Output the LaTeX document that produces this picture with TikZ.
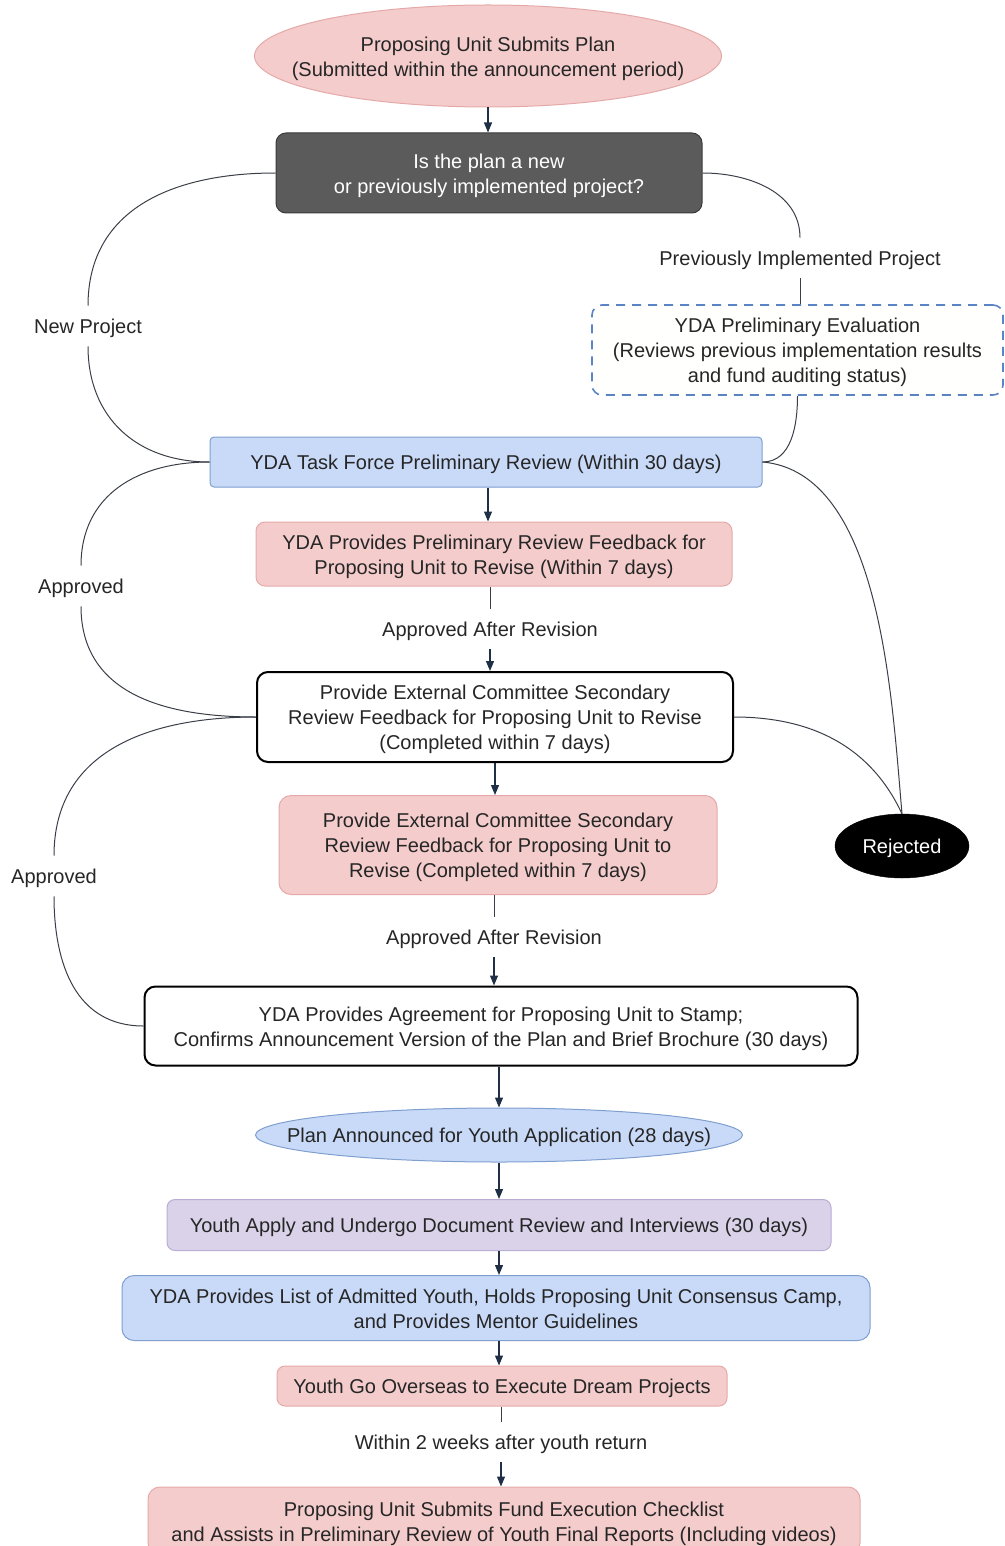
\documentclass[tikz,border=0pt]{standalone}
\usepackage{fontspec}
\setmainfont{Liberation Sans}
\usetikzlibrary{arrows.meta,shapes.geometric}
\definecolor{pinkfill}{HTML}{F4CCCC}
\definecolor{pinkdraw}{HTML}{E6A9A9}
\definecolor{bluefill}{HTML}{C9DAF8}
\definecolor{bluedraw}{HTML}{7F9FCF}
\definecolor{purpfill}{HTML}{D9D2E9}
\definecolor{purpdraw}{HTML}{B9ADD6}
\definecolor{darkfill}{HTML}{5B5B5B}
\definecolor{darkdraw}{HTML}{3A3A3A}
\definecolor{linecol}{HTML}{3A3F47}
\definecolor{arrcol}{HTML}{1F2F45}
\definecolor{txt}{HTML}{262626}
\definecolor{dashblue}{HTML}{5B84C4}
\definecolor{palefill}{HTML}{FFFFFD}
\newcommand{\mystrut}{\rule[-4pt]{0pt}{24pt}}
\begin{document}
\begin{tikzpicture}[x=1pt,y=-1pt,
  every node/.style={font=\fontsize{20}{25}\selectfont, text=txt, align=center, inner sep=0pt,
    execute at begin node=\mystrut, execute at end node=\mystrut},
  pinkbox/.style={draw=pinkdraw, fill=pinkfill, line width=1pt},
  bluebox/.style={draw=bluedraw, fill=bluefill, line width=1pt},
  purpbox/.style={draw=purpdraw, fill=purpfill, line width=1pt},
  boldbox/.style={draw=black, fill=white, line width=2pt, rounded corners=11pt},
  darkbox/.style={draw=darkdraw, fill=darkfill, line width=1pt, rounded corners=10pt},
  dashbox/.style={draw=dashblue, fill=palefill, line width=1.6pt, dash pattern=on 9pt off 7pt, rounded corners=10pt},
  lbl/.style={inner xsep=3pt, inner ysep=8pt},
  arr/.style={draw=arrcol, line width=1.2pt, -{Triangle[length=10pt,width=8pt]}},
  conn/.style={draw=linecol, line width=1pt}
]
\useasboundingbox (0,0) rectangle (1004,1546);

% nodes
\node[ellipse, pinkbox, minimum width=467, minimum height=102] (n1) at (488,56) {};
\node (n1t) at (n1) {\mystrut Proposing Unit Submits Plan\\(Submitted within the announcement period)\mystrut};

\node[darkbox, minimum width=426, minimum height=80, text=white] (n2) at (489,173) {\mystrut Is the plan a new\\or previously implemented project?\mystrut};

\node[lbl] (lprev) at (800,258) {Previously Implemented Project};

\node[dashbox, minimum width=411, minimum height=90] (n5) at (797.5,350) {\mystrut YDA Preliminary Evaluation\\(Reviews previous implementation results\\and fund auditing status)\mystrut};

\node[lbl] (lnew) at (88,326) {New Project};

\node[bluebox, rounded corners=4pt, minimum width=552, minimum height=50] (n6) at (486,462) {YDA Task Force Preliminary Review (Within 30 days)};

\node[pinkbox, rounded corners=9pt, minimum width=476, minimum height=64] (n7) at (494,554) {\mystrut YDA Provides Preliminary Review Feedback for\\Proposing Unit to Revise (Within 7 days)\mystrut};

\node[lbl] (lar1) at (490,629) {Approved After Revision};

\node[lbl] (lapp1) at (81,586) {Approved};

\node[boldbox, minimum width=476, minimum height=90] (n9) at (495,717) {\mystrut Provide External Committee Secondary\\Review Feedback for Proposing Unit to Revise\\(Completed within 7 days)\mystrut};

\node[ellipse, draw=black, fill=black, minimum width=134, minimum height=64] (rej) at (902,846) {};
\node[text=white] (rejt) at (rej) {Rejected};

\node[pinkbox, rounded corners=12pt, minimum width=438, minimum height=99] (n11) at (498,845) {\mystrut Provide External Committee Secondary\\Review Feedback for Proposing Unit to\\Revise (Completed within 7 days)\mystrut};

\node[lbl] (lar2) at (494,937) {Approved After Revision};

\node[lbl] (lapp2) at (54,876) {Approved};

\node[boldbox, minimum width=713, minimum height=79] (n13) at (501,1026) {\mystrut YDA Provides Agreement for Proposing Unit to Stamp;\\Confirms Announcement Version of the Plan and Brief Brochure (30 days)\mystrut};

\node[ellipse, bluebox, minimum width=487, minimum height=54] (n14) at (499,1135) {};
\node (n14t) at (n14) {Plan Announced for Youth Application (28 days)};

\node[purpbox, rounded corners=8pt, minimum width=664, minimum height=51] (n15) at (499,1225) {Youth Apply and Undergo Document Review and Interviews (30 days)};

\node[bluebox, rounded corners=12pt, minimum width=748, minimum height=65] (n16) at (496,1308) {\mystrut YDA Provides List of Admitted Youth, Holds Proposing Unit Consensus Camp,\\and Provides Mentor Guidelines\mystrut};

\node[pinkbox, rounded corners=8pt, minimum width=450, minimum height=40] (n17) at (502,1386) {Youth Go Overseas to Execute Dream Projects};

\node[lbl] (lwithin) at (501,1442) {Within 2 weeks after youth return};

\node[pinkbox, rounded corners=12pt, minimum width=712, minimum height=68] (n18) at (504,1521) {\mystrut Proposing Unit Submits Fund Execution Checklist\\and Assists in Preliminary Review of Youth Final Reports (Including videos)\mystrut};

% connectors
\draw[arr] (n1.south) -- (n1.south |- n2.north);
\draw[conn] (n2.east) to[out=0,in=90] (lprev.north);
\draw[conn] (lprev.south) -- (lprev.south |- n5.north);
\draw[conn] (n5.south) to[out=-90,in=0] (n6.east);
\draw[conn] (n2.west) to[out=180,in=90,looseness=1.1] (lnew.north);
\draw[conn] (lnew.south) to[out=-90,in=180,looseness=1.1] (n6.west);

\draw[arr] ([xshift=2pt]n6.south) -- ([xshift=2pt]n6.south |- n7.north);
\draw[conn] (lar1.north |- n7.south) -- (lar1.north);
\draw[arr] (lar1.south) -- (lar1.south |- n9.north);

\draw[conn] (n6.west) to[out=180,in=90,looseness=1.1] (lapp1.north);
\draw[conn] (lapp1.south) to[out=-90,in=180,looseness=1.1] (n9.west);

\draw[conn] (n6.east) to[out=-5,in=95,looseness=0.8] (rej.north);
\draw[conn] (n9.east) to[out=0,in=115] (rej.north);

\draw[arr] (n9.south) -- (n9.south |- n11.north);
\draw[conn] (lar2.north |- n11.south) -- (lar2.north);
\draw[arr] (lar2.south) -- (lar2.south |- n13.north);

\draw[conn] (n9.west) to[out=180,in=90,looseness=1.1] (lapp2.north);
\draw[conn] (lapp2.south) to[out=-90,in=180,looseness=1.1] (n13.west);

\draw[arr] ([xshift=-2pt]n13.south) -- ([xshift=-2pt]n13.south |- n14.north);
\draw[arr] (n14.south) -- (n14.south |- n15.north);
\draw[arr] (n15.south) -- (n15.south |- n16.north);
\draw[arr] ([xshift=3pt]n16.south) -- ([xshift=3pt]n16.south |- n17.north);
\draw[conn] (lwithin.north |- n17.south) -- (lwithin.north);
\draw[arr] (lwithin.south) -- (lwithin.south |- n18.north);
\end{tikzpicture}
\end{document}
